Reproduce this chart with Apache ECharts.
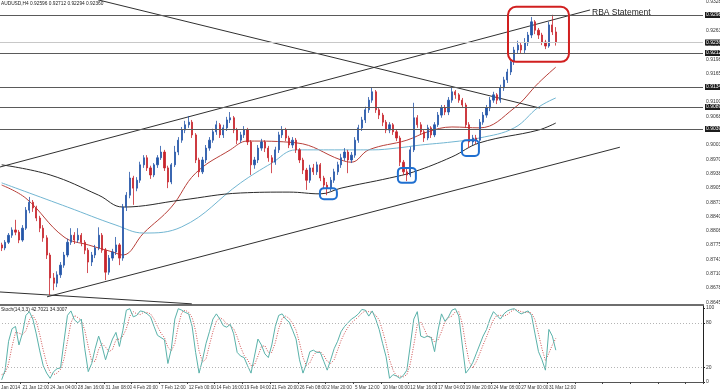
<!DOCTYPE html>
<html><head><meta charset="utf-8">
<script src="https://cdn.jsdelivr.net/npm/echarts@6/dist/echarts.min.js"></script>
<style>html,body{margin:0;padding:0;background:#fff}#c{width:720px;height:390px}</style>
</head><body><div id="c"></div>
<script>
// ---------- data ----------
const timeLabels = ["17 Jan 2014","21 Jan 12:00","24 Jan 04:00","28 Jan 16:00","31 Jan 08:00","4 Feb 20:00","7 Feb 12:00","12 Feb 00:00","14 Feb 16:00","19 Feb 04:00","21 Feb 20:00","26 Feb 08:00","2 Mar 20:00","5 Mar 12:00","10 Mar 00:00","12 Mar 16:00","17 Mar 04:00","19 Mar 20:00","24 Mar 08:00","27 Mar 00:00","31 Mar 12:00"];
const firstOpen = 0.8776;
const closes = [
0.8769,0.8782,0.8798,0.8810,0.8805,0.8787,0.8814,0.8855,0.8873,0.8860,
0.8837,0.8814,0.8792,0.8753,0.8701,0.8689,0.8708,0.8730,0.8753,0.8782,
0.8798,0.8787,0.8798,0.8782,0.8764,0.8737,0.8753,0.8769,0.8798,0.8764,
0.8714,0.8746,0.8760,0.8776,0.8746,0.8862,0.8889,0.8928,0.8905,0.8923,
0.8958,0.8974,0.8951,0.8935,0.8958,0.8974,0.8987,0.8951,0.8919,0.8958,
0.8987,0.9014,0.9037,0.9049,0.9055,0.9026,0.8969,0.8942,0.8969,0.8996,
0.9014,0.9033,0.9049,0.9026,0.9042,0.9060,0.9065,0.9037,0.9014,0.9026,
0.9037,0.9010,0.8958,0.8969,0.8996,0.9010,0.8996,0.8974,0.8964,0.8992,
0.9026,0.9037,0.9019,0.9003,0.9014,0.8992,0.8969,0.8946,0.8923,0.8951,
0.8942,0.8958,0.8928,0.8912,0.8905,0.8923,0.8942,0.8958,0.8974,0.8987,
0.8969,0.8980,0.9014,0.9042,0.9060,0.9083,0.9105,0.9124,0.9083,0.9071,
0.9055,0.9037,0.9049,0.9033,0.9019,0.8964,0.8942,0.8935,0.8992,0.9065,
0.9049,0.9033,0.9019,0.9042,0.9026,0.9049,0.9071,0.9087,0.9078,0.9105,
0.9124,0.9117,0.9105,0.9094,0.9049,0.9010,0.9019,0.9014,0.9055,0.9071,
0.9087,0.9105,0.9117,0.9105,0.9133,0.9151,0.9169,0.9192,0.9219,0.9230,
0.9219,0.9235,0.9253,0.9283,0.9264,0.9253,0.9237,0.9228,0.9276,0.9260,
0.9236];
const highs = [
0.8781,0.8787,0.8803,0.8816,0.8833,0.8810,0.8821,0.8862,0.8885,0.8878,
0.8865,0.8842,0.8821,0.8798,0.8758,0.8712,0.8716,0.8737,0.8760,0.8790,
0.8814,0.8805,0.8814,0.8803,0.8787,0.8769,0.8760,0.8776,0.8816,0.8803,
0.8769,0.8753,0.8767,0.8794,0.8780,0.8869,0.8896,0.8942,0.8933,0.8930,
0.8965,0.8980,0.8980,0.8956,0.8962,0.8980,0.9001,0.8992,0.8956,0.8962,
0.9001,0.9021,0.9044,0.9058,0.9069,0.9060,0.9030,0.8974,0.8976,0.9003,
0.9021,0.9040,0.9058,0.9053,0.9049,0.9067,0.9078,0.9069,0.9042,0.9033,
0.9046,0.9042,0.9014,0.8976,0.9003,0.9017,0.9014,0.9001,0.8980,0.8999,
0.9033,0.9046,0.9042,0.9024,0.9021,0.9019,0.8996,0.8974,0.8951,0.8958,
0.8960,0.8965,0.8962,0.8933,0.8919,0.8930,0.8949,0.8965,0.8983,0.8996,
0.8992,0.8987,0.9021,0.9049,0.9067,0.9090,0.9112,0.9133,0.9128,0.9087,
0.9076,0.9060,0.9055,0.9053,0.9037,0.9024,0.8969,0.8949,0.8999,0.9099,
0.9071,0.9055,0.9037,0.9049,0.9046,0.9055,0.9078,0.9094,0.9094,0.9112,
0.9135,0.9128,0.9121,0.9110,0.9099,0.9055,0.9026,0.9026,0.9062,0.9078,
0.9094,0.9112,0.9124,0.9121,0.9140,0.9158,0.9176,0.9199,0.9226,0.9240,
0.9237,0.9246,0.9260,0.9294,0.9287,0.9269,0.9258,0.9242,0.9283,0.9299,
0.9271];
const lows = [
0.8762,0.8764,0.8778,0.8792,0.8798,0.8780,0.8783,0.8810,0.8848,0.8851,
0.8830,0.8805,0.8783,0.8744,0.8662,0.8673,0.8680,0.8701,0.8724,0.8748,
0.8776,0.8778,0.8781,0.8773,0.8755,0.8712,0.8728,0.8746,0.8764,0.8758,
0.8696,0.8708,0.8740,0.8753,0.8730,0.8740,0.8853,0.8882,0.8867,0.8898,
0.8917,0.8951,0.8944,0.8926,0.8930,0.8951,0.8969,0.8944,0.8905,0.8914,
0.8953,0.8980,0.9008,0.9030,0.9042,0.9019,0.8962,0.8930,0.8937,0.8962,
0.8990,0.9008,0.9026,0.9019,0.9019,0.9035,0.9053,0.9030,0.9005,0.9008,
0.9019,0.9003,0.8935,0.8949,0.8962,0.8990,0.8987,0.8965,0.8939,0.8958,
0.8985,0.9019,0.9012,0.8996,0.8996,0.8985,0.8962,0.8937,0.8901,0.8917,
0.8935,0.8935,0.8921,0.8903,0.8889,0.8898,0.8917,0.8935,0.8951,0.8967,
0.8939,0.8962,0.8974,0.9008,0.9035,0.9053,0.9076,0.9099,0.9076,0.9062,
0.9046,0.9030,0.9030,0.9026,0.9012,0.8955,0.8935,0.8921,0.8930,0.8987,
0.9042,0.9026,0.9010,0.9014,0.9019,0.9021,0.9044,0.9065,0.9071,0.9071,
0.9099,0.9108,0.9099,0.9087,0.9042,0.8996,0.9003,0.9005,0.9008,0.9049,
0.9065,0.9080,0.9099,0.9096,0.9099,0.9126,0.9144,0.9162,0.9185,0.9212,
0.9212,0.9212,0.9228,0.9246,0.9255,0.9244,0.9230,0.9221,0.9224,0.9253,
0.9229];
// moving averages read at bar positions [bar, price]
const maRed = [[0,0.8912],[7,0.8882],[18,0.8794],[25,0.8776],[32,0.8760],[35,0.8753],[41,0.8803],[49,0.8862],[56,0.8939],[66,0.8992],[71,0.9012],[85,0.9008],[98,0.8969],[101,0.8964],[106,0.8992],[117,0.9014],[123,0.9033],[130,0.9044],[138,0.9042],[148,0.9087],[155,0.9144],[160,0.9180]];
const maBlue = [[0,0.8917],[19,0.8862],[33,0.8821],[41,0.8803],[52,0.8817],[69,0.8917],[78,0.8962],[85,0.8992],[98,0.8992],[107,0.8992],[114,0.8996],[121,0.9003],[130,0.9010],[138,0.9019],[148,0.9042],[155,0.9089],[160,0.9110]];
const maBlack = [[0,0.8958],[14,0.8935],[28,0.8889],[35,0.8862],[52,0.8878],[69,0.8894],[83,0.8896],[92,0.8892],[98,0.8905],[112,0.8928],[119,0.8942],[130,0.8976],[138,0.9008],[155,0.9037],[160,0.9053]];
// drawn trend lines, endpoints [bar, price]
const trendLines = [
  [[-0.5,0.8953],[169.9,0.9310]],
  [[27.8,0.9333],[155.4,0.9087]],
  [[13.1,0.8658],[178.5,0.8998]],
  [[-0.5,0.8669],[54.9,0.8642]]
];
const hLevels = [0.92985,0.92121,0.91348,0.90894,0.90394];
const bidLevel = 0.92360;
const yTicks = [0.86455,0.86780,0.87105,0.87430,0.87755,0.88080,0.88405,0.88730,0.89055,0.89380,0.89705,0.90030,0.90355,0.90680,0.91005,0.91330,0.91655,0.91980,0.92305,0.92630,0.92955,0.93280];
const stochTicks = [0,20,80,100];
const stochLevels = [20,80];
const stochMain = [
3,16,55,72,75,50,66,90,95,85,
65,42,22,12,5,14,18,19,55,90,
96,84,80,85,45,14,25,45,62,48,
30,45,58,67,48,70,97,99,88,90,
96,95,92,88,75,63,60,57,25,45,
85,99,97,94,92,75,40,12,30,52,
68,85,92,85,76,74,78,65,40,35,
33,22,12,35,58,50,38,33,50,75,
90,92,85,81,70,58,30,12,25,41,
43,40,40,28,16,30,45,55,68,75,
80,85,88,92,98,97,89,96,85,71,
52,34,5,10,8,5,9,16,50,85,
95,62,60,62,60,41,70,92,82,88,
97,99,89,50,12,18,26,38,50,62,
71,85,95,90,85,92,96,98,99,95,
92,94,96,90,65,41,30,16,71,62,
43];
const stochSignal = [
10,12,25,48,67,66,64,69,84,90,
82,64,43,25,13,10,12,17,31,55,
80,90,87,83,70,48,28,28,44,52,
47,41,44,57,58,62,72,89,95,92,
91,94,94,92,85,75,66,60,47,42,
52,76,94,97,94,87,69,42,27,31,
50,68,82,87,84,78,76,72,61,47,
36,30,22,23,35,48,49,40,40,53,
72,86,89,86,79,70,53,33,22,26,
36,41,41,36,28,25,30,43,56,66,
74,80,84,88,93,96,95,94,90,84,
69,52,30,16,8,8,7,10,25,50,
77,81,72,61,61,54,57,68,81,87,
89,95,95,79,50,27,19,27,38,50,
61,73,84,90,90,89,91,95,98,97,
95,94,94,93,84,65,45,29,39,50,
59];
// highlight boxes: [barFrom, barTo, priceLow, priceHigh]
const redNote = [146.2,163.8,0.9192,0.9317];
const blueNotes = [[91.9,96.8,0.8880,0.8905],[114.4,119.6,0.8917,0.8951],[132.9,137.8,0.8978,0.9014]];
const headerText = "AUDUSD,H4 0.92596 0.92712 0.92294 0.92360";
const stochText = "Stoch(14,3,3) 42.7021 34.3007";
const noteText = "RBA Statement";

// ---------- chart ----------
const LEAD = 2, NCAT = 205;
const FONT = 'Liberation Sans, Arial, sans-serif';
const cats = new Array(NCAT).fill('');
timeLabels.forEach((t,k)=>{ cats[8*k] = t; });
const candles = closes.map((c,i)=>[i+LEAD, i===0?firstOpen:closes[i-1], c, lows[i], highs[i]]);
const shift = arr => arr.map(p=>[p[0]+LEAD, p[1]]);
const chart = echarts.init(document.getElementById('c'));

const levelMarks = {silent:true, symbol:['none','none'], animation:false, precision:5,
  label:{show:true, position:'end', distance:2, formatter:p=>Number(p.value).toFixed(5),
    color:'#fff', backgroundColor:'#1c1c1c', fontSize:5, fontFamily:FONT, padding:[1,3,0,1]},
  data: hLevels.map(v=>({yAxis:v, lineStyle:{color:'#5a5a5a', width:1.2, type:'solid'}}))
    .concat([{yAxis:bidLevel, lineStyle:{color:'#c8c8c8', width:1, type:'solid'}}])};

const series = [
  {type:'candlestick', xAxisIndex:0, yAxisIndex:0, encode:{x:0,y:[1,2,3,4]}, data:candles,
   barWidth:1.7, z:3,
   itemStyle:{color:'#2456a8', color0:'#c8242c', borderColor:'#2456a8', borderColor0:'#c8242c', borderWidth:0.8}},
  {type:'line', xAxisIndex:2, yAxisIndex:0, data:shift(maRed), smooth:0.4, symbol:'none', lineStyle:{color:'#b8403a', width:1}, z:2},
  {type:'line', xAxisIndex:2, yAxisIndex:0, data:shift(maBlue), smooth:0.4, symbol:'none', lineStyle:{color:'#72b6d2', width:1}, z:2},
  {type:'line', xAxisIndex:2, yAxisIndex:0, data:shift(maBlack), smooth:0.4, symbol:'none', lineStyle:{color:'#2a2a2a', width:1}, z:2,
   markLine:levelMarks}
];
trendLines.forEach(tl=>series.push({type:'line', xAxisIndex:2, yAxisIndex:0, data:shift(tl), symbol:'none', lineStyle:{color:'#303030', width:1}, z:2}));
series.push({type:'line', xAxisIndex:1, yAxisIndex:1, data:stochSignal.map((v,i)=>[i+LEAD,v]), symbol:'none',
  lineStyle:{color:'#d05050', width:1, type:[1,1.5]}, z:2,
  markLine:{silent:true, symbol:['none','none'], animation:false, label:{show:false},
    lineStyle:{color:'#b4b4b4', width:1, type:[1,2]}, data:stochLevels.map(v=>({yAxis:v}))}});
series.push({type:'line', xAxisIndex:1, yAxisIndex:1, data:stochMain.map((v,i)=>[i+LEAD,v]), symbol:'none',
  lineStyle:{color:'#5ab2aa', width:1}, z:3});

chart.setOption({
  animation:false,
  backgroundColor:'#ffffff',
  textStyle:{fontFamily:FONT},
  title:[
    {text:headerText, left:1, top:1, padding:0, textStyle:{fontSize:4.8, fontWeight:'normal', color:'#222', fontFamily:FONT}},
    {text:stochText, left:1, top:307, padding:0, textStyle:{fontSize:4.8, fontWeight:'normal', color:'#222', fontFamily:FONT}},
    {text:noteText, left:592, top:8, padding:0, textStyle:{fontSize:8.5, fontWeight:'normal', color:'#222', fontFamily:FONT}}
  ],
  grid:[
    {left:-7, right:17, top:0, height:305, outerBoundsMode:'none'},
    {left:-7, right:17, top:305, height:77, outerBoundsMode:'none'}
  ],
  xAxis:[
    {type:'category', gridIndex:0, data:cats, boundaryGap:true,
     axisLabel:{show:false}, axisTick:{show:false}, axisLine:{show:true, lineStyle:{color:'#6e6e6e', width:2}}, splitLine:{show:false}},
    {type:'category', gridIndex:1, data:cats, boundaryGap:true,
     axisLabel:{show:true, interval:7, align:'left', fontSize:4.6, color:'#333', margin:3, fontFamily:FONT},
     axisTick:{show:true, interval:7, length:2, lineStyle:{color:'#444'}},
     axisLine:{show:true, lineStyle:{color:'#555', width:1}}, splitLine:{show:false}},
    {type:'value', gridIndex:0, min:-0.5, max:NCAT-0.5, show:false}
  ],
  yAxis:[
    {type:'value', gridIndex:0, position:'right', min:0.86394, max:0.93326,
     axisLine:{show:true, lineStyle:{color:'#222', width:1}},
     axisTick:{show:true, length:2, customValues:yTicks, lineStyle:{color:'#222'}},
     axisLabel:{show:true, customValues:yTicks, formatter:v=>Number(v).toFixed(5), fontSize:5, color:'#333', margin:3, fontFamily:FONT},
     splitLine:{show:false}},
    {type:'value', gridIndex:1, position:'right', min:0, max:104,
     axisLine:{show:true, lineStyle:{color:'#222', width:1}},
     axisTick:{show:true, length:2, customValues:stochTicks, lineStyle:{color:'#222'}},
     axisLabel:{show:true, customValues:stochTicks, fontSize:5, color:'#333', margin:3, fontFamily:FONT},
     splitLine:{show:false}}
  ],
  series:series
});

function toRect(b){
  const a = chart.convertToPixel({xAxisIndex:2, yAxisIndex:0}, [b[0]+LEAD, b[3]]);
  const c = chart.convertToPixel({xAxisIndex:2, yAxisIndex:0}, [b[1]+LEAD, b[2]]);
  return {x:a[0], y:a[1], width:c[0]-a[0], height:c[1]-a[1]};
}
const gfx = [];
const rr = toRect(redNote);
gfx.push({type:'rect', shape:Object.assign(rr,{r:8}), style:{fill:'none', stroke:'#d11f1f', lineWidth:2}, z:10});
blueNotes.forEach(b=>{
  const r = toRect(b);
  gfx.push({type:'rect', shape:Object.assign(r,{r:4}), style:{fill:'none', stroke:'#1f6fd0', lineWidth:2}, z:10});
});
chart.setOption({graphic:gfx});
</script>
</body></html>
